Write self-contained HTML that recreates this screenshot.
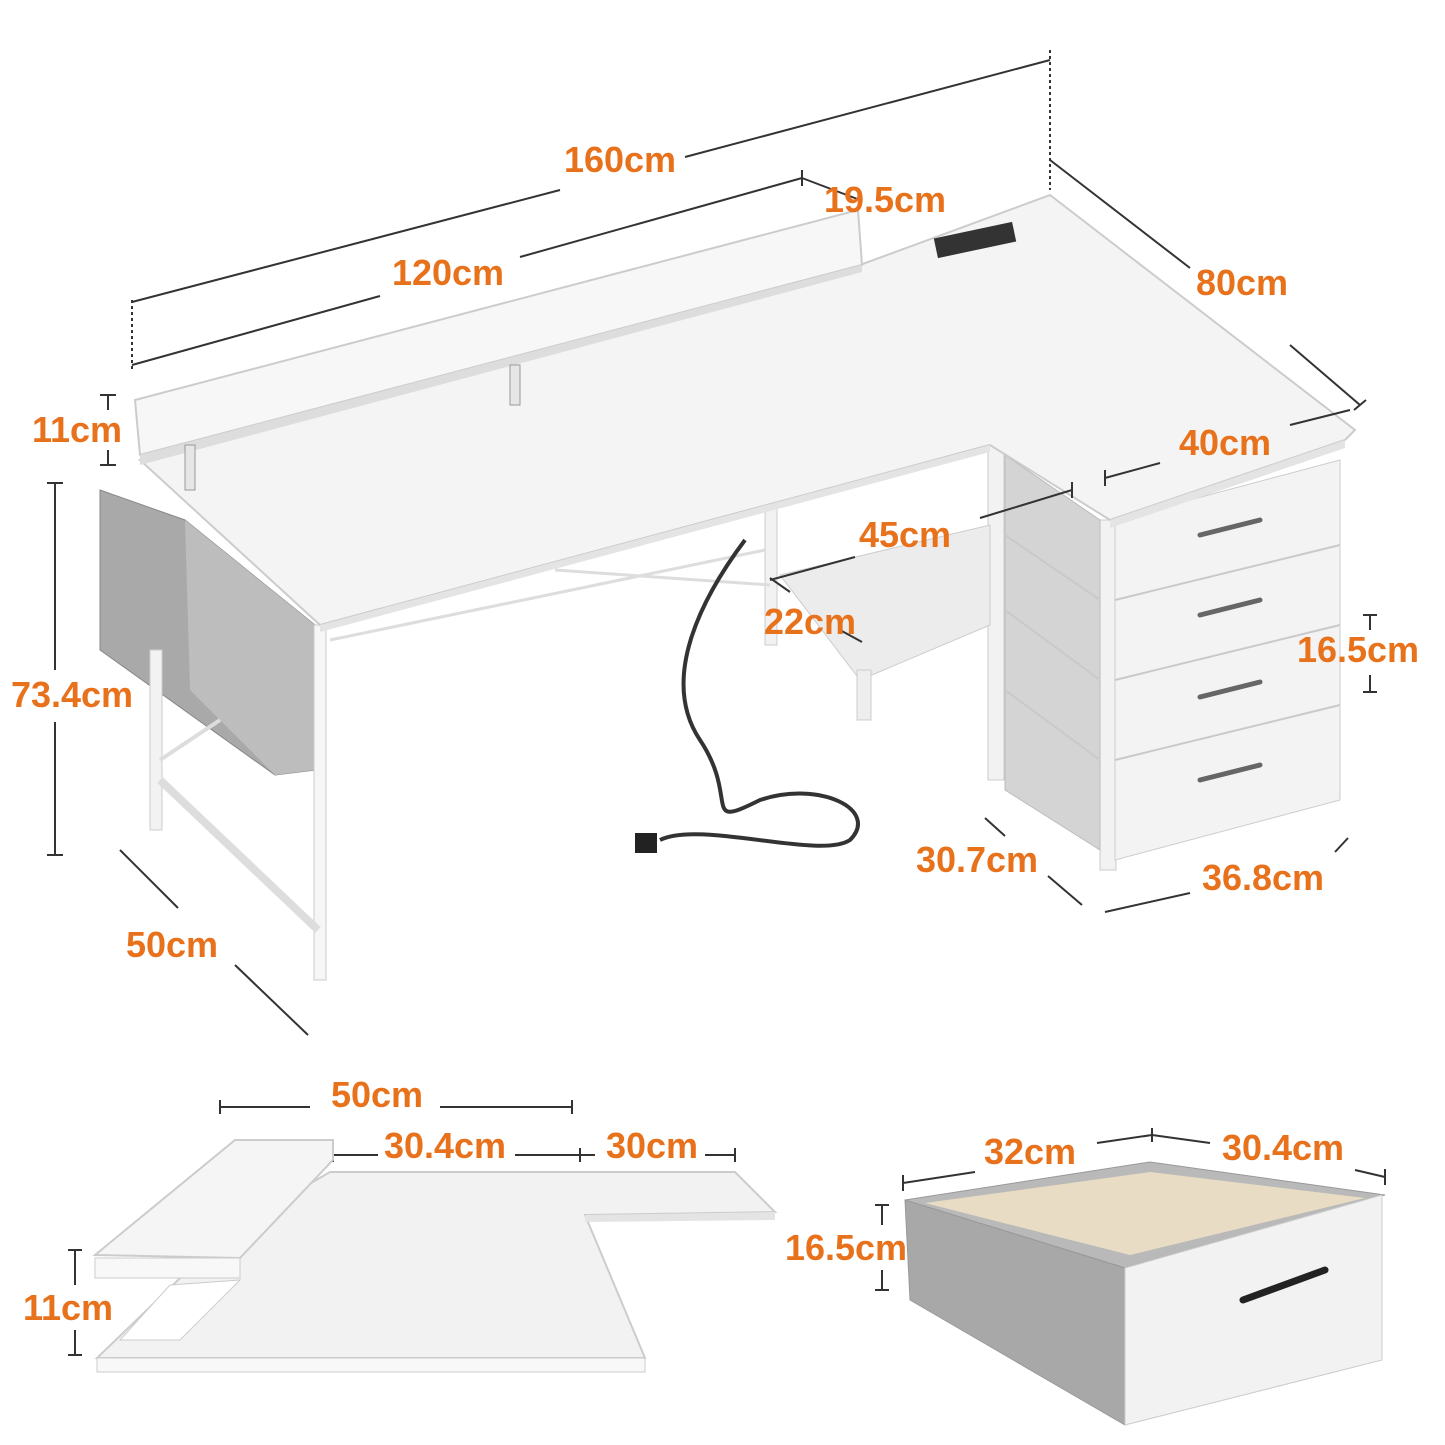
<!DOCTYPE html>
<html><head><meta charset="utf-8"><style>
html,body{margin:0;padding:0;background:#fff;}
svg{display:block;}
text{font-family:"Liberation Sans",sans-serif;font-size:36px;fill:#e8711c;font-weight:bold;}
.d{stroke:#333;stroke-width:2;fill:none;}
.o{stroke:#c9c9c9;stroke-width:2;}
</style></head><body>
<svg width="1445" height="1445" viewBox="0 0 1445 1445" xmlns="http://www.w3.org/2000/svg">
<polygon points="100,490 185,520 315,625 315,770 275,775 100,650" fill="#a9a9a9" stroke="#888"/>
<polygon points="185,520 315,625 315,770 275,775 190,690" fill="#bdbdbd"/>
<rect x="150" y="650" width="12" height="180" fill="#f2f2f2" stroke="#ccc"/>
<rect x="314" y="625" width="12" height="355" fill="#f6f6f6" stroke="#ccc"/>
<line x1="160" y1="780" x2="318" y2="930" stroke="#ddd" stroke-width="8"/>
<line x1="160" y1="760" x2="220" y2="720" stroke="#ddd" stroke-width="4"/>
<rect x="765" y="505" width="12" height="140" fill="#f2f2f2" stroke="#ccc"/>
<rect x="988" y="445" width="16" height="335" fill="#f2f2f2" stroke="#ccc"/>
<rect x="1100" y="520" width="16" height="350" fill="#f2f2f2" stroke="#ccc"/>
<line x1="330" y1="640" x2="765" y2="550" stroke="#ddd" stroke-width="3"/>
<line x1="555" y1="570" x2="770" y2="585" stroke="#ddd" stroke-width="3"/>
<polygon points="780,575 990,525 990,625 860,680" fill="#ececec" stroke="#ccc"/>
<rect x="857" y="670" width="14" height="50" fill="#eee" stroke="#ccc"/>
<path d="M745,540 C700,600 660,680 700,740 C740,800 700,830 760,800 C820,780 880,810 850,840 C820,860 700,820 660,840" stroke="#333" stroke-width="4" fill="none"/>
<rect x="635" y="833" width="22" height="20" fill="#222"/>
<polygon points="1005,455 1100,520 1100,850 1005,790" fill="#d4d4d4" stroke="#bbb"/>
<line x1="1005" y1="535" x2="1100" y2="600" class="o"/>
<line x1="1005" y1="610" x2="1100" y2="680" class="o"/>
<line x1="1005" y1="690" x2="1100" y2="760" class="o"/>
<polygon points="1115,520 1340,460 1340,800 1115,860" fill="#f3f3f3" stroke="#ccc"/>
<line x1="1115" y1="600" x2="1340" y2="545" class="o"/>
<line x1="1115" y1="680" x2="1340" y2="625" class="o"/>
<line x1="1115" y1="760" x2="1340" y2="705" class="o"/>
<g stroke="#666" stroke-width="5" stroke-linecap="round" fill="none">
<path d="M1200,535 L1260,520"/><path d="M1200,615 L1260,600"/><path d="M1200,697 L1260,682"/><path d="M1200,780 L1260,765"/>
</g>
<polygon points="140,460 860,265 1050,195 1355,430 1345,440 1110,520 990,445 320,625" fill="#f4f4f4" stroke="#ccc" stroke-width="2"/>
<polygon points="320,625 990,445 990,452 320,632" fill="#e4e4e4"/>
<polygon points="1110,520 1345,440 1345,448 1110,528" fill="#e4e4e4"/>
<rect x="935" y="230" width="80" height="20" fill="#333" transform="rotate(-12 975 240)"/>
<polygon points="135,400 858,210 862,265 140,455" fill="#f7f7f7" stroke="#ccc" stroke-width="2"/>
<polygon points="140,455 862,265 862,272 140,465" fill="#ddd"/>
<rect x="185" y="445" width="10" height="45" fill="#e6e6e6" stroke="#999"/>
<rect x="510" y="365" width="10" height="40" fill="#e6e6e6" stroke="#999"/>
<g class="d">
<line x1="132" y1="300" x2="132" y2="370" stroke-dasharray="3,3"/>
<line x1="1050" y1="50" x2="1050" y2="190" stroke-dasharray="3,3"/>
<line x1="132" y1="302" x2="560" y2="190"/><line x1="685" y1="157" x2="1050" y2="60"/>
<line x1="132" y1="365" x2="380" y2="296"/><line x1="520" y1="257" x2="802" y2="178"/>
<line x1="802" y1="170" x2="802" y2="186"/>
<line x1="802" y1="178" x2="860" y2="200"/><line x1="860" y1="192" x2="860" y2="208"/>
<line x1="1050" y1="160" x2="1190" y2="268"/><line x1="1290" y1="345" x2="1360" y2="405"/>
<line x1="1354" y1="410" x2="1366" y2="400"/>
<line x1="1105" y1="478" x2="1160" y2="463"/><line x1="1290" y1="425" x2="1350" y2="410"/>
<line x1="1105" y1="470" x2="1105" y2="486"/>
<line x1="770" y1="580" x2="855" y2="557"/><line x1="980" y1="518" x2="1072" y2="490"/>
<line x1="1072" y1="482" x2="1072" y2="498"/>
<line x1="770" y1="578" x2="790" y2="592"/><line x1="840" y1="630" x2="862" y2="642"/>
<line x1="108" y1="395" x2="108" y2="410"/><line x1="108" y1="450" x2="108" y2="465"/>
<line x1="100" y1="395" x2="116" y2="395"/><line x1="100" y1="465" x2="116" y2="465"/>
<line x1="55" y1="483" x2="55" y2="670"/><line x1="55" y1="722" x2="55" y2="855"/>
<line x1="47" y1="483" x2="63" y2="483"/><line x1="47" y1="855" x2="63" y2="855"/>
<line x1="1370" y1="615" x2="1370" y2="630"/><line x1="1370" y1="675" x2="1370" y2="692"/>
<line x1="1363" y1="615" x2="1377" y2="615"/><line x1="1363" y1="692" x2="1377" y2="692"/>
<line x1="120" y1="850" x2="178" y2="908"/><line x1="235" y1="965" x2="308" y2="1035"/>
<line x1="985" y1="818" x2="1005" y2="836"/><line x1="1048" y1="876" x2="1082" y2="905"/>
<line x1="1105" y1="912" x2="1190" y2="893"/><line x1="1335" y1="852" x2="1348" y2="838"/>
<line x1="220" y1="1107" x2="310" y2="1107"/><line x1="440" y1="1107" x2="572" y2="1107"/>
<line x1="220" y1="1100" x2="220" y2="1114"/><line x1="572" y1="1100" x2="572" y2="1114"/>
<line x1="333" y1="1155" x2="378" y2="1155"/><line x1="515" y1="1155" x2="595" y2="1155"/>
<line x1="705" y1="1155" x2="735" y2="1155"/>
<line x1="333" y1="1148" x2="333" y2="1162"/><line x1="580" y1="1148" x2="580" y2="1162"/><line x1="735" y1="1148" x2="735" y2="1162"/>
<line x1="75" y1="1250" x2="75" y2="1285"/><line x1="75" y1="1330" x2="75" y2="1355"/>
<line x1="68" y1="1250" x2="82" y2="1250"/><line x1="68" y1="1355" x2="82" y2="1355"/>
<line x1="903" y1="1183" x2="975" y2="1172"/><line x1="1097" y1="1143" x2="1152" y2="1135"/>
<line x1="1152" y1="1135" x2="1210" y2="1143"/><line x1="1355" y1="1170" x2="1385" y2="1177"/>
<line x1="903" y1="1175" x2="903" y2="1191"/><line x1="1152" y1="1128" x2="1152" y2="1142"/><line x1="1385" y1="1169" x2="1385" y2="1185"/>
<line x1="882" y1="1205" x2="882" y2="1225"/><line x1="882" y1="1270" x2="882" y2="1290"/>
<line x1="875" y1="1205" x2="889" y2="1205"/><line x1="875" y1="1290" x2="889" y2="1290"/>
</g>
<polygon points="330,1172 735,1172 775,1212 585,1215 645,1358 97,1358 230,1230" fill="#f2f2f2" stroke="#ccc" stroke-width="2"/>
<rect x="97" y="1358" width="548" height="14" fill="#f8f8f8" stroke="#ccc"/>
<polygon points="585,1215 775,1212 775,1220 585,1222" fill="#e4e4e4"/>
<polygon points="120,1340 170,1285 240,1280 180,1340" fill="#fff" stroke="#ccc"/>
<polygon points="95,1255 235,1140 333,1140 333,1160 240,1258" fill="#f5f5f5" stroke="#ccc" stroke-width="2"/>
<rect x="95" y="1258" width="145" height="20" fill="#f8f8f8" stroke="#ccc"/>
<polygon points="905,1200 1150,1162 1385,1195 1125,1268" fill="#b9b9b9" stroke="#999"/>
<polygon points="925,1203 1150,1172 1365,1198 1130,1255" fill="#e9dcc4"/>
<polygon points="905,1200 1125,1268 1125,1425 910,1300" fill="#a8a8a8" stroke="#999"/>
<polygon points="1125,1268 1382,1195 1382,1360 1125,1425" fill="#f2f2f2" stroke="#ccc"/>
<path d="M1243,1300 L1325,1270" stroke="#222" stroke-width="7" stroke-linecap="round"/>
<text x="620" y="172" text-anchor="middle">160cm</text>
<text x="885" y="212" text-anchor="middle">19.5cm</text>
<text x="448" y="285" text-anchor="middle">120cm</text>
<text x="1242" y="295" text-anchor="middle">80cm</text>
<text x="77" y="442" text-anchor="middle">11cm</text>
<text x="1225" y="455" text-anchor="middle">40cm</text>
<text x="905" y="547" text-anchor="middle">45cm</text>
<text x="810" y="634" text-anchor="middle">22cm</text>
<text x="1358" y="662" text-anchor="middle">16.5cm</text>
<text x="72" y="707" text-anchor="middle">73.4cm</text>
<text x="977" y="872" text-anchor="middle">30.7cm</text>
<text x="1263" y="890" text-anchor="middle">36.8cm</text>
<text x="172" y="957" text-anchor="middle">50cm</text>
<text x="377" y="1107" text-anchor="middle">50cm</text>
<text x="445" y="1158" text-anchor="middle">30.4cm</text>
<text x="652" y="1158" text-anchor="middle">30cm</text>
<text x="68" y="1320" text-anchor="middle">11cm</text>
<text x="1030" y="1164" text-anchor="middle">32cm</text>
<text x="1283" y="1160" text-anchor="middle">30.4cm</text>
<text x="846" y="1260" text-anchor="middle">16.5cm</text>
</svg>
</body></html>
